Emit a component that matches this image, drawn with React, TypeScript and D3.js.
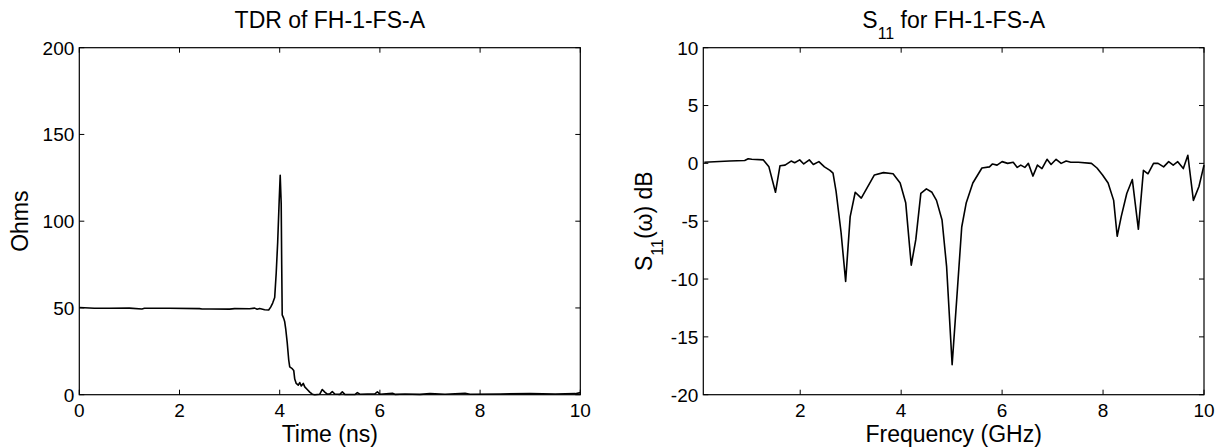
import React from "react";
import * as d3 from "d3";

// ---- TDR data (left) ----
const tdrTime = [0, 0.3, 0.6, 1.0, 1.25, 1.3, 1.8, 2.4, 2.45, 2.6, 3.0, 3.1, 3.4, 3.5, 3.55, 3.6, 3.7, 3.78, 3.82, 3.86, 3.9, 3.93, 3.96, 3.99, 4.01, 4.03, 4.04, 4.05, 4.08, 4.1, 4.12, 4.15, 4.18, 4.2, 4.25, 4.28, 4.3, 4.33, 4.37, 4.4, 4.43, 4.47, 4.5, 4.55, 4.6, 4.65, 4.7, 4.8, 4.85, 4.9, 4.95, 5.0, 5.05, 5.1, 5.2, 5.25, 5.3, 5.5, 5.55, 5.6, 5.9, 5.95, 6.0, 6.25, 6.3, 6.5, 6.8, 7.0, 7.3, 7.7, 7.8, 8.4, 9.0, 9.5, 9.9, 10];
const tdrOhms = [50.3, 49.8, 49.8, 49.9, 49.4, 49.8, 49.8, 49.6, 49.4, 49.4, 49.3, 49.6, 49.5, 49.9, 49.3, 49.7, 49.0, 48.8, 50.5, 52.8, 56, 70, 88, 112, 126.5, 110, 75, 46, 44, 42, 38, 30, 20, 16, 15, 14, 9, 6.5, 5.5, 7, 5, 6.5, 4.5, 3, 1.5, 0.3, 0, 0.3, 3, 1.5, 0.3, 0.5, 1.8, 0.4, 0.2, 1.6, 0.2, 0.1, 1.2, 0.3, 0.5, 1.6, 0.3, 0.8, 0.2, 0.4, 0.2, 0.6, 0.3, 0.8, 0.3, 0.4, 0.6, 0.4, 0.6, 1.2];
const tdrXTicks = [0, 2, 4, 6, 8, 10];
const tdrYTicks = [0, 50, 100, 150, 200];

// ---- S11 data (right) ----
const sFreq = [0.1, 0.6, 0.9, 0.97, 1.04, 1.27, 1.38, 1.51, 1.6, 1.7, 1.82, 1.89, 1.99, 2.07, 2.18, 2.26, 2.37, 2.48, 2.59, 2.65, 2.71, 2.81, 2.9, 2.99, 3.09, 3.21, 3.47, 3.65, 3.84, 3.98, 4.09, 4.2, 4.29, 4.39, 4.5, 4.61, 4.7, 4.81, 4.9, 5.01, 5.1, 5.2, 5.29, 5.42, 5.6, 5.75, 5.81, 5.9, 6.0, 6.11, 6.22, 6.3, 6.37, 6.45, 6.52, 6.61, 6.7, 6.79, 6.89, 6.97, 7.07, 7.17, 7.27, 7.36, 7.51, 7.77, 7.88, 7.99, 8.1, 8.21, 8.28, 8.36, 8.47, 8.58, 8.7, 8.8, 8.89, 9.0, 9.09, 9.2, 9.3, 9.39, 9.48, 9.59, 9.68, 9.79, 9.9, 10.0];
const sDb = [0.1, 0.2, 0.25, 0.4, 0.35, 0.3, -0.3, -2.5, -0.2, -0.15, 0.2, 0.05, 0.3, -0.05, 0.3, -0.1, 0.15, -0.3, -0.6, -0.85, -2.4, -6, -10.2, -4.6, -2.5, -3.0, -1.0, -0.8, -0.9, -1.7, -3.4, -8.8, -6.6, -2.6, -2.2, -2.5, -3.2, -4.9, -8.9, -17.4, -11.8, -5.5, -3.4, -1.7, -0.4, -0.3, -0.05, -0.15, 0.15, 0, 0.1, -0.35, -0.15, -0.35, 0, -1.1, -0.15, -0.45, 0.35, -0.1, 0.35, 0, 0.2, 0.1, 0.1, 0, -0.4, -1.0, -1.7, -3.2, -6.3, -4.6, -2.6, -1.4, -5.7, -0.6, -0.9, 0, 0, -0.3, 0.15, -0.15, 0.15, -0.45, 0.7, -3.2, -2.0, -0.15];
const sXTicks = [2, 4, 6, 8, 10];
const sYTicks = [-20, -15, -10, -5, 0, 5, 10];

const FONT = "'Liberation Sans', Arial, Helvetica, sans-serif";
const TICK = 5;

type PanelProps = {
  left: number;
  right: number;
  top: number;
  bottom: number;
  xDomain: [number, number];
  yDomain: [number, number];
  xTicks: number[];
  yTicks: number[];
  xs: number[];
  ys: number[];
};

function Panel(p: PanelProps) {
  const x = d3.scaleLinear().domain(p.xDomain).range([p.left, p.right]);
  const y = d3.scaleLinear().domain(p.yDomain).range([p.bottom, p.top]);
  const pts: [number, number][] = p.xs.map((v, i) => [v, p.ys[i]]);
  const line = d3
    .line<[number, number]>()
    .x((d) => x(d[0]))
    .y((d) => y(d[1]));
  return (
    <g>
      <path d={line(pts) || ""} fill="none" stroke="#000" strokeWidth={1.6} strokeLinejoin="round" />
      <rect
        x={p.left}
        y={p.top}
        width={p.right - p.left}
        height={p.bottom - p.top}
        fill="none"
        stroke="#000"
        strokeWidth={1.2}
      />
      {p.xTicks.map((t) => (
        <g key={"x" + t}>
          <line x1={x(t)} x2={x(t)} y1={p.bottom} y2={p.bottom - TICK} stroke="#000" strokeWidth={1} />
          <line x1={x(t)} x2={x(t)} y1={p.top} y2={p.top + TICK} stroke="#000" strokeWidth={1} />
          <text x={x(t)} y={417} textAnchor="middle" fontSize={19} fontFamily={FONT} fill="#000">
            {t}
          </text>
        </g>
      ))}
      {p.yTicks.map((t) => (
        <g key={"y" + t}>
          <line x1={p.left} x2={p.left + TICK} y1={y(t)} y2={y(t)} stroke="#000" strokeWidth={1} />
          <line x1={p.right} x2={p.right - TICK} y1={y(t)} y2={y(t)} stroke="#000" strokeWidth={1} />
          <text
            x={p.left - 5}
            y={y(t) + 6.8}
            textAnchor="end"
            fontSize={19}
            fontFamily={FONT}
            fill="#000"
          >
            {t}
          </text>
        </g>
      ))}
    </g>
  );
}

export default function App() {
  const top = 47.7;
  const bottom = 394.7;
  const L1 = 79.3,
    R1 = 580.3;
  const L2 = 703.3,
    R2 = 1204;
  const midY = (top + bottom) / 2;
  return (
    <svg
      width={1222}
      height={448}
      viewBox="0 0 1222 448"
      style={{ position: "absolute", left: 0, top: 0, background: "#fff" }}
    >
      <rect x={0} y={0} width={1222} height={448} fill="#fff" />
      <Panel
        left={L1}
        right={R1}
        top={top}
        bottom={bottom}
        xDomain={[0, 10]}
        yDomain={[0, 200]}
        xTicks={tdrXTicks}
        yTicks={tdrYTicks}
        xs={tdrTime}
        ys={tdrOhms}
      />
      <Panel
        left={L2}
        right={R2}
        top={top}
        bottom={bottom}
        xDomain={[0.08, 10]}
        yDomain={[-20, 10]}
        xTicks={sXTicks}
        yTicks={sYTicks}
        xs={sFreq}
        ys={sDb}
      />
      {/* Titles */}
      <text x={(L1 + R1) / 2} y={28.3} textAnchor="middle" fontSize={23} fontFamily={FONT} fill="#000">
        TDR of FH-1-FS-A
      </text>
      <text x={(L2 + R2) / 2} y={28.3} textAnchor="middle" fontSize={23} fontFamily={FONT} fill="#000">
        S
        <tspan fontSize={16} dy={11}>
          11
        </tspan>
        <tspan dy={-11}> for FH-1-FS-A</tspan>
      </text>
      {/* X labels */}
      <text x={(L1 + R1) / 2} y={442} textAnchor="middle" fontSize={23} fontFamily={FONT} fill="#000">
        Time (ns)
      </text>
      <text x={(L2 + R2) / 2} y={442} textAnchor="middle" fontSize={23} fontFamily={FONT} fill="#000">
        Frequency (GHz)
      </text>
      {/* Y labels */}
      <text
        transform={`translate(27.5,${midY}) rotate(-90)`}
        textAnchor="middle"
        fontSize={23}
        fontFamily={FONT}
        fill="#000"
      >
        Ohms
      </text>
      <text
        transform={`translate(651.5,${midY}) rotate(-90)`}
        textAnchor="middle"
        fontSize={23}
        fontFamily={FONT}
        fill="#000"
      >
        S
        <tspan fontSize={16} dy={11}>
          11
        </tspan>
        <tspan dy={-11}>(ω) dB</tspan>
      </text>
    </svg>
  );
}
